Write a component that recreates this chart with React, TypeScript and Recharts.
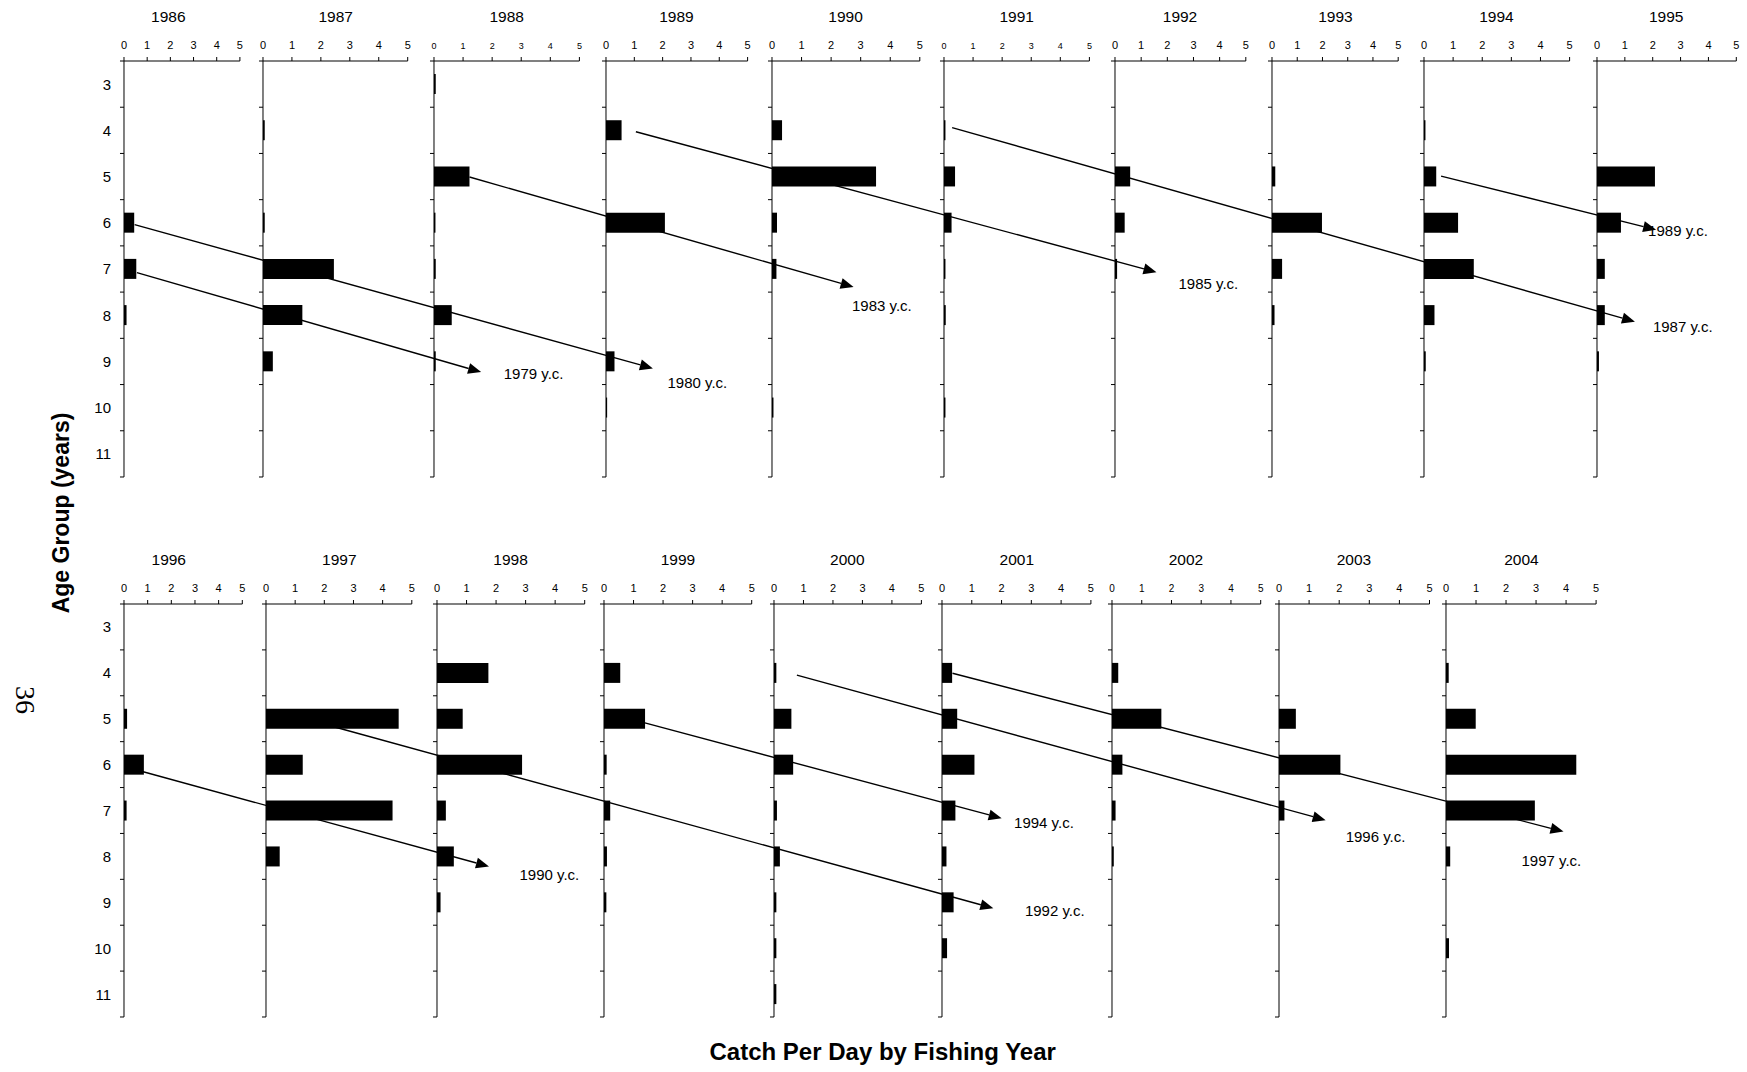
import React from "react";
import { BarChart, Bar, XAxis, YAxis, ScatterChart, Scatter } from "recharts";

// age groups (years) shown on every panel, top to bottom
const ages = ["3", "4", "5", "6", "7", "8", "9", "10", "11"];
const catchTicks = [0, 1, 2, 3, 4, 5];

// catch per day for age groups 3..11, one list per fishing year
const cpd1986 = [0, 0, 0, 0.44, 0.53, 0.11, 0, 0, 0];
const cpd1987 = [0, 0.06, 0, 0.06, 2.45, 1.36, 0.34, 0, 0];
const cpd1988 = [0.06, 0, 1.22, 0.05, 0.06, 0.61, 0.06, 0, 0];
const cpd1989 = [0, 0.55, 0, 2.08, 0, 0, 0.3, 0.04, 0];
const cpd1990 = [0, 0.34, 3.52, 0.17, 0.15, 0, 0, 0.05, 0];
const cpd1991 = [0, 0.05, 0.38, 0.26, 0.05, 0.06, 0, 0.05, 0];
const cpd1992 = [0, 0, 0.58, 0.37, 0.08, 0, 0, 0, 0];
const cpd1993 = [0, 0, 0.13, 1.98, 0.4, 0.1, 0, 0, 0];
const cpd1994 = [0, 0.05, 0.42, 1.17, 1.71, 0.36, 0.06, 0, 0];
const cpd1995 = [0, 0, 2.08, 0.86, 0.28, 0.28, 0.07, 0, 0];
const cpd1996 = [0, 0, 0.13, 0.84, 0.11, 0, 0, 0, 0];
const cpd1997 = [0, 0, 4.55, 1.26, 4.34, 0.47, 0, 0, 0];
const cpd1998 = [0, 1.74, 0.87, 2.88, 0.3, 0.57, 0.12, 0, 0];
const cpd1999 = [0, 0.55, 1.39, 0.09, 0.21, 0.1, 0.08, 0, 0];
const cpd2000 = [0, 0.08, 0.59, 0.65, 0.1, 0.2, 0.08, 0.08, 0.08];
const cpd2001 = [0, 0.34, 0.51, 1.09, 0.45, 0.15, 0.39, 0.17, 0];
const cpd2002 = [0, 0.21, 1.66, 0.35, 0.12, 0.06, 0, 0, 0];
const cpd2003 = [0, 0, 0.56, 2.04, 0.18, 0, 0, 0, 0];
const cpd2004 = [0, 0.09, 0.99, 4.34, 2.96, 0.14, 0, 0.1, 0];

const topYears = [1986, 1987, 1988, 1989, 1990, 1991, 1992, 1993, 1994, 1995];
const bottomYears = [1996, 1997, 1998, 1999, 2000, 2001, 2002, 2003, 2004];
const topValues = [cpd1986, cpd1987, cpd1988, cpd1989, cpd1990, cpd1991, cpd1992, cpd1993, cpd1994, cpd1995];
const bottomValues = [cpd1996, cpd1997, cpd1998, cpd1999, cpd2000, cpd2001, cpd2002, cpd2003, cpd2004];

// year-class arrows: [fishing year, catch per day, age] at start and end
const topCohorts = [
    { name: "1979 y.c.", from: [1986, 0.54, 7.08], to: [1988, 1.62, 9.23] },
    { name: "1980 y.c.", from: [1986, 0.44, 6.04], to: [1989, 1.67, 9.15] },
    { name: "1983 y.c.", from: [1988, 1.22, 5.01], to: [1990, 2.77, 7.39] },
    { name: "1985 y.c.", from: [1989, 1.07, 4.03], to: [1992, 1.6, 7.07] },
    { name: "1987 y.c.", from: [1991, 0.28, 3.94], to: [1995, 1.38, 8.14] },
    { name: "1989 y.c.", from: [1994, 0.6, 4.99], to: [1995, 2.14, 6.15] },
];
const bottomCohorts = [
    { name: "1990 y.c.", from: [1996, 0.79, 6.15], to: [1998, 1.77, 8.22] },
    { name: "1992 y.c.", from: [1997, 2.28, 5.17], to: [2001, 1.71, 9.13] },
    { name: "1994 y.c.", from: [1999, 1.38, 5.09], to: [2001, 1.99, 7.17] },
    { name: "1996 y.c.", from: [2000, 0.79, 4.05], to: [2003, 1.56, 7.21] },
    { name: "1997 y.c.", from: [2001, 0.34, 4.01], to: [2004, 3.9, 7.46] },
];

// layout (pixels)
const PAGE_W = 1747;
const PAGE_H = 1072;
const FONT = "'Liberation Sans', Arial, sans-serif";

const topRow = {
    years: topYears,
    values: topValues,
    origins: [124.4, 263.3, 434, 605.6, 771.7, 944, 1114.6, 1272.3, 1423.6, 1596.5],
    widths: [115.9, 144.7, 145.4, 141.6, 147.8, 145.4, 130.8, 126.2, 145.6, 139.3],
    tickFonts: [11, 11, 9, 11, 11, 9, 11, 11, 11, 11],
    axisY: 60.5,
    plotH: 416,
    titleY: 17.3,
};
const bottomRow = {
    years: bottomYears,
    values: bottomValues,
    origins: [123.6, 266.4, 436.7, 604.1, 773.6, 942.4, 1111.6, 1278.7, 1446.4],
    widths: [118.3, 145.8, 147.7, 147.7, 147.4, 148.9, 148.7, 150.5, 150.1],
    tickFonts: [11, 11, 11, 11, 11, 11, 10, 11, 11],
    axisY: 604,
    plotH: 413,
    titleY: 560,
};

// label offset from arrow tip: [dx, dy]
const labelOffsets: Record<string, number[]> = {
    "1979 y.c.": [22.6, 1],
    "1980 y.c.": [14.6, 14],
    "1983 y.c.": [-1.6, 18],
    "1985 y.c.": [22, 11.6],
    "1987 y.c.": [18, 5],
    "1989 y.c.": [-8, 1],
    "1990 y.c.": [30.5, 8.3],
    "1992 y.c.": [31.6, 2.7],
    "1994 y.c.": [12.4, 4.4],
    "1996 y.c.": [20, 16],
    "1997 y.c.": [-42, 29],
};

const Y_AXIS_W = 40;
const X_AXIS_H = 30;

const AgeTick = (props: any) => {
    const { x, y, payload, index, band, show } = props;
    const last = index === ages.length - 1;
    return (
        <g>
            <line x1={x - 4} x2={x} y1={y - band / 2} y2={y - band / 2} stroke="#000" />
            {last && <line x1={x - 4} x2={x} y1={y + band / 2} y2={y + band / 2} stroke="#000" />}
            {show && (
                <text x={x - 13} y={y} textAnchor="end" dominantBaseline="central" fontSize={15} fill="#000">
                    {payload.value}
                </text>
            )}
        </g>
    );
};

const Panel = ({ row, i }: { row: any; i: number }) => {
    const x0 = row.origins[i];
    const plotW = row.widths[i];
    const data = ages.map((a, k) => ({ age: a, cpd: row.values[i][k] }));
    const band = row.plotH / ages.length;
    const first = i === 0;
    const titleX = x0 + plotW / 2 - (first ? 14 : 0);
    return (
        <>
            <div
                style={{
                    position: "absolute",
                    left: titleX,
                    top: row.titleY,
                    transform: "translate(-50%, -50%)",
                    fontSize: 15.5,
                    lineHeight: 1,
                    whiteSpace: "nowrap",
                }}
            >
                {row.years[i]}
            </div>
            <div style={{ position: "absolute", left: x0 - Y_AXIS_W, top: row.axisY - X_AXIS_H }}>
                <BarChart
                    layout="vertical"
                    width={Y_AXIS_W + plotW + 8}
                    height={X_AXIS_H + row.plotH + 4}
                    data={data}
                    margin={{ top: 0, right: 8, bottom: 4, left: 0 }}
                    barSize={20}
                >
                    <XAxis
                        type="number"
                        orientation="top"
                        domain={[0, 5]}
                        ticks={catchTicks}
                        interval={0}
                        height={X_AXIS_H}
                        tickSize={4}
                        tickMargin={8}
                        tick={{ fontSize: row.tickFonts[i], fill: "#000" }}
                        axisLine={{ stroke: "#000" }}
                        tickLine={{ stroke: "#000" }}
                    />
                    <YAxis
                        type="category"
                        dataKey="age"
                        width={Y_AXIS_W}
                        interval={0}
                        tickSize={0}
                        tickMargin={0}
                        tickLine={false}
                        axisLine={{ stroke: "#000" }}
                        tick={(p: any) => <AgeTick {...p} band={band} show={first} />}
                    />
                    <Bar dataKey="cpd" fill="#000" isAnimationActive={false} />
                </BarChart>
            </div>
        </>
    );
};

// arrow body + head, drawn from the two scaled points of the scatter line
const arrowLine = (props: any) => {
    const [p0, p1] = props.points;
    const ang = Math.atan2(p1.y - p0.y, p1.x - p0.x);
    const len = 13;
    const half = 5.5;
    const bx = p1.x - len * Math.cos(ang);
    const by = p1.y - len * Math.sin(ang);
    const nx = -Math.sin(ang) * half;
    const ny = Math.cos(ang) * half;
    return (
        <g>
            <line x1={p0.x} y1={p0.y} x2={bx} y2={by} stroke="#000" strokeWidth={1.4} />
            <polygon points={`${p1.x},${p1.y} ${bx + nx},${by + ny} ${bx - nx},${by - ny}`} fill="#000" />
        </g>
    );
};

const cohortLabel = (props: any) => {
    const { cx, cy, payload } = props;
    if (!payload.name) return <g />;
    const [dx, dy] = labelOffsets[payload.name];
    return (
        <text x={cx + dx} y={cy + dy} dominantBaseline="central" fontSize={15} fill="#000" fontFamily={FONT}>
            {payload.name}
        </text>
    );
};

const Cohorts = ({ row, cohorts }: { row: any; cohorts: any[] }) => {
    const toPoint = (p: number[]) => {
        const k = row.years.indexOf(p[0]);
        return { x: row.origins[k] + (p[1] * row.widths[k]) / 5, age: p[2] };
    };
    return (
        <div style={{ position: "absolute", left: 0, top: row.axisY, pointerEvents: "none" }}>
            <ScatterChart width={PAGE_W} height={row.plotH} margin={{ top: 0, right: 0, bottom: 0, left: 0 }}>
                <XAxis type="number" dataKey="x" domain={[0, PAGE_W]} hide />
                <YAxis type="number" dataKey="age" domain={[2.5, 11.5]} reversed hide />
                {cohorts.map((c) => (
                    <Scatter
                        key={c.name}
                        data={[toPoint(c.from), { ...toPoint(c.to), name: c.name }]}
                        line={arrowLine}
                        shape={cohortLabel}
                        fill="#000"
                        isAnimationActive={false}
                    />
                ))}
            </ScatterChart>
        </div>
    );
};

export default function App() {
    return (
        <div
            style={{
                position: "absolute",
                left: 0,
                top: 0,
                width: PAGE_W,
                height: PAGE_H,
                background: "#fff",
                fontFamily: FONT,
                color: "#000",
                overflow: "hidden",
            }}
        >
            {topRow.years.map((y, i) => (
                <Panel key={y} row={topRow} i={i} />
            ))}
            {bottomRow.years.map((y, i) => (
                <Panel key={y} row={bottomRow} i={i} />
            ))}
            <Cohorts row={topRow} cohorts={topCohorts} />
            <Cohorts row={bottomRow} cohorts={bottomCohorts} />

            <div
                style={{
                    position: "absolute",
                    left: 61,
                    top: 513,
                    transform: "translate(-50%, -50%) rotate(-90deg)",
                    fontSize: 23,
                    fontWeight: "bold",
                    lineHeight: 1,
                    whiteSpace: "nowrap",
                }}
            >
                Age Group (years)
            </div>
            <div
                style={{
                    position: "absolute",
                    left: 882.7,
                    top: 1052,
                    transform: "translate(-50%, -50%)",
                    fontSize: 24,
                    fontWeight: "bold",
                    lineHeight: 1,
                    whiteSpace: "nowrap",
                }}
            >
                Catch Per Day by Fishing Year
            </div>
            <div
                style={{
                    position: "absolute",
                    left: 25,
                    top: 700,
                    transform: "translate(-50%, -50%) rotate(90deg)",
                    fontSize: 28,
                    fontFamily: "'Liberation Serif', serif",
                    lineHeight: 1,
                    whiteSpace: "nowrap",
                }}
            >
                36
            </div>
        </div>
    );
}
